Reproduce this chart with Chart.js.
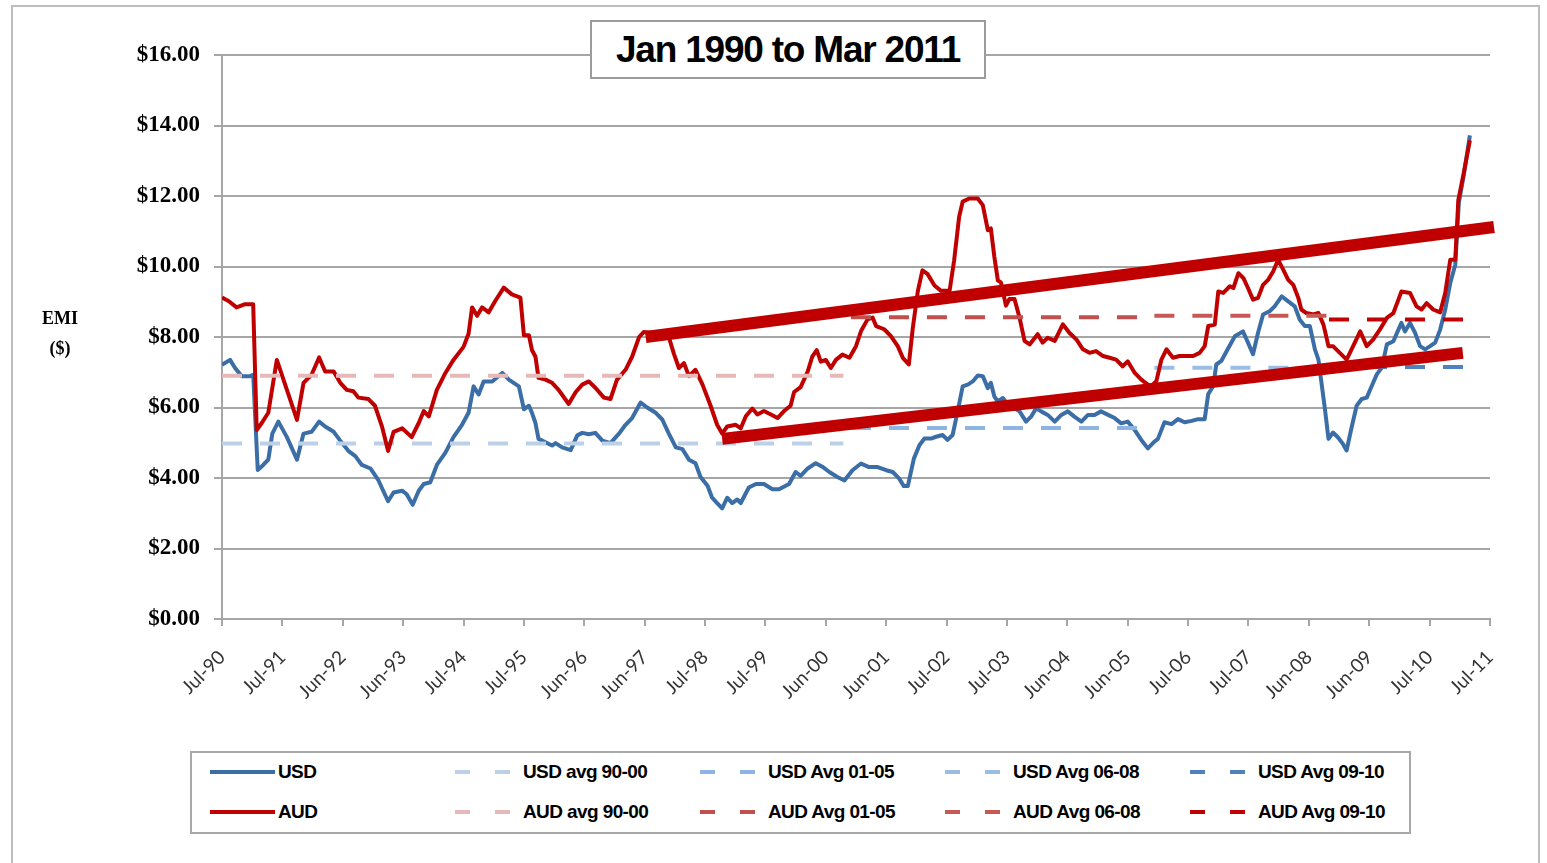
<!DOCTYPE html>
<html>
<head>
<meta charset="utf-8">
<script src="https://cdn.jsdelivr.net/npm/chart.js@4.4.1/dist/chart.umd.min.js"></script>
<style>
html,body{margin:0;padding:0;background:#fff;}
#wrap{position:relative;width:1547px;height:863px;overflow:hidden;background:#fff;}
#frame{position:absolute;left:11px;top:5px;width:1529px;height:880px;border:2px solid #BDBDBD;box-sizing:border-box;}
#cv{position:absolute;left:0;top:0;}
#title{position:absolute;left:590px;top:20px;width:396px;height:59px;border:2px solid #9C9C9C;box-sizing:border-box;background:#fff;
  font:bold 37px "Liberation Sans",Arial,sans-serif;letter-spacing:-1.2px;text-align:center;line-height:55px;color:#000;}
#ylab{position:absolute;left:30px;top:303px;width:60px;text-align:center;font:bold 18px "Liberation Serif",serif;line-height:30px;color:#000;}
#legend{position:absolute;left:190px;top:751px;width:1221px;height:83px;border:2px solid #A8A8A8;box-sizing:border-box;background:#fff;}
.li{position:absolute;height:24px;display:flex;align-items:center;font:bold 19px "Liberation Sans",Arial,sans-serif;letter-spacing:-0.6px;color:#000;white-space:nowrap;}
.li svg{display:block;margin-right:2px;}
</style>
</head>
<body>
<div id="wrap">
  <div id="frame"></div>
  <canvas id="cv" width="1547" height="863"></canvas>
  <div id="title">Jan 1990 to Mar 2011</div>
  <div id="ylab">EMI<br>($)</div>
  <div id="legend"></div>
</div>
<script>
// ---- Data (month index from Jul-90 = 0) ----
const xTickLabels = ['Jul-90','Jul-91','Jun-92','Jun-93','Jul-94','Jul-95','Jun-96','Jun-97','Jul-98','Jul-99','Jun-00',
  'Jun-01','Jul-02','Jul-03','Jun-04','Jun-05','Jul-06','Jul-07','Jun-08','Jun-09','Jul-10','Jul-11'];
const yTickValues = [0,2,4,6,8,10,12,14,16];

const usdPoints = [[0,7.21],[1.6,7.35],[2.6,7.12],[3.9,6.89],[5.6,6.89],[6.2,6.93],[7.1,4.23],[8.2,4.37],[9.2,4.52],[10.0,5.26],
[11.2,5.6],[12.9,5.16],[14.9,4.52],[16.2,5.26],[17.8,5.31],[19.3,5.6],[20.5,5.46],[22.2,5.31],[23.5,5.06],[25.1,4.77],
[26.5,4.62],[27.8,4.37],[29.5,4.27],[31.1,3.93],[33.0,3.34],[34.1,3.59],[35.8,3.64],[36.7,3.54],[37.9,3.24],[39.1,3.64],
[40.1,3.83],[41.4,3.88],[42.7,4.37],[44.4,4.72],[46.0,5.16],[47.7,5.51],[49.0,5.85],[50.0,6.6],[51.0,6.37],[52.0,6.74],
[53.7,6.74],[55.7,6.98],[57.0,6.79],[59.0,6.6],[60.0,5.95],[61.0,6.05],[61.6,5.85],[62.3,5.56],[62.9,5.11],[64.3,5.01],
[65.6,4.92],[66.3,4.99],[67.6,4.87],[69.3,4.79],[70.6,5.21],[71.6,5.28],[72.9,5.24],[74.2,5.28],[75.6,5.06],[77.2,4.99],
[78.9,5.26],[80.2,5.51],[81.5,5.7],[83.2,6.14],[84.5,6.0],[86.2,5.85],[87.5,5.66],[88.8,5.26],[90.2,4.87],[91.5,4.82],
[92.8,4.52],[94.1,4.42],[95.1,4.03],[96.5,3.78],[97.4,3.44],[98.4,3.29],[99.4,3.14],[100.4,3.44],[101.4,3.29],[102.4,3.39],
[103.1,3.29],[104.7,3.73],[106.1,3.83],[107.7,3.83],[109.4,3.68],[110.7,3.68],[112.7,3.83],[114.0,4.17],[115.0,4.06],[116.4,4.27],
[118.0,4.42],[119.3,4.32],[120.7,4.17],[122.3,4.03],[123.7,3.93],[125.3,4.22],[127.0,4.41],[128.6,4.31],[130.3,4.31],[132.0,4.22],
[133.3,4.17],[134.6,3.98],[135.5,3.77],[136.3,3.77],[137.5,4.55],[138.6,4.93],[139.6,5.12],[140.9,5.12],[141.9,5.17],[143.2,5.22],
[144.2,5.08],[145.2,5.22],[146.2,5.89],[147.2,6.6],[148.2,6.65],[149.2,6.74],[150.2,6.91],[151.2,6.89],[152.2,6.55],[152.8,6.7],
[153.5,6.31],[154.2,6.17],[155.2,6.27],[156.2,6.08],[157.5,5.98],[158.5,5.89],[159.8,5.6],[160.8,5.74],[161.8,5.98],[162.8,5.89],
[164.1,5.79],[165.5,5.6],[166.8,5.79],[168.1,5.89],[169.4,5.74],[170.8,5.6],[172.1,5.79],[173.4,5.79],[174.7,5.89],[176.1,5.79],
[177.4,5.7],[178.7,5.55],[180.0,5.6],[181.4,5.36],[182.7,5.08],[184.0,4.84],[185.3,5.03],[186.0,5.11],[187.3,5.58],[188.7,5.53],
[190.0,5.67],[191.3,5.58],[192.7,5.62],[194.0,5.67],[195.3,5.67],[196.0,6.38],[197.0,6.61],[197.6,7.22],[198.6,7.32],[200.0,7.69],
[201.3,8.02],[202.9,8.16],[203.9,7.84],[204.9,7.51],[205.9,8.12],[206.9,8.64],[208.2,8.73],[209.2,8.87],[210.6,9.15],[211.9,9.01],
[213.2,8.87],[214.2,8.49],[215.2,8.31],[216.2,8.31],[217.2,7.65],[217.9,7.36],[218.5,6.71],[219.2,5.95],[219.9,5.11],[220.8,5.29],
[221.8,5.15],[222.8,4.96],[223.5,4.78],[224.5,5.44],[225.5,6.05],[226.5,6.24],[227.5,6.28],[228.5,6.61],[229.5,6.94],[230.5,7.13],
[231.5,7.79],[232.8,7.88],[233.8,8.21],[234.4,8.4],[235.1,8.16],[236.1,8.4],[237.1,8.12],[238.1,7.74],[239.1,7.65],[240.1,7.74],
[241.1,7.84],[242.1,8.21],[243.1,8.78],[244.1,9.53],[245.1,10.05],[245.8,11.8],[246.8,12.6],[248.0,13.72]];

const audPoints = [[0,9.12],[1.3,9.02],[2.9,8.84],[4.6,8.93],[6.2,8.93],[6.9,5.36],[7.9,5.56],[9.2,5.85],[10.9,7.35],[12.9,6.5],
[14.9,5.65],[16.2,6.7],[17.8,6.93],[19.3,7.42],[20.5,7.02],[22.2,7.02],[23.5,6.7],[24.8,6.5],[26.1,6.46],[27.1,6.28],
[29.1,6.24],[30.4,6.05],[31.8,5.46],[33.0,4.77],[34.1,5.31],[35.8,5.41],[37.7,5.16],[39.1,5.56],[40.1,5.9],[41.1,5.75],
[42.7,6.5],[44.4,6.98],[46.0,7.35],[48.0,7.72],[49.0,8.09],[49.7,8.84],[50.7,8.6],[51.7,8.84],[53.0,8.7],[54.3,9.02],
[56.0,9.4],[57.6,9.21],[59.3,9.12],[60.0,8.05],[61.0,8.05],[61.6,7.63],[62.3,7.44],[62.9,6.84],[64.3,6.79],[65.6,6.7],
[66.9,6.5],[68.9,6.1],[70.3,6.44],[71.6,6.65],[72.9,6.74],[74.2,6.56],[75.9,6.28],[77.2,6.24],[78.5,6.79],[80.2,7.07],
[81.5,7.44],[82.9,8.0],[83.8,8.14],[86.5,8.1],[88.8,8.0],[89.8,7.53],[90.8,7.12],[91.8,7.26],[92.8,6.89],[94.1,7.07],
[95.5,6.65],[97.1,6.05],[98.4,5.51],[99.4,5.26],[100.4,5.46],[102.1,5.51],[103.1,5.41],[104.1,5.75],[105.4,5.97],[106.4,5.8],
[107.7,5.9],[109.1,5.8],[110.4,5.7],[111.7,5.9],[113.0,6.05],[113.7,6.44],[115.0,6.58],[116.4,7.02],[117.3,7.44],[118.2,7.63],
[119.0,7.3],[120.0,7.35],[121.0,7.12],[122.0,7.35],[123.3,7.5],[124.7,7.41],[126.0,7.74],[127.0,8.17],[128.3,8.5],[129.3,8.55],
[130.0,8.31],[131.6,8.22],[132.9,8.03],[134.3,7.74],[135.3,7.41],[136.5,7.22],[137.3,8.27],[138.3,9.31],[139.2,9.89],[140.2,9.79],
[141.6,9.46],[142.9,9.31],[144.6,9.31],[145.5,10.17],[146.5,11.41],[147.2,11.84],[148.5,11.93],[150.2,11.93],[151.2,11.74],[152.2,11.03],
[152.8,11.08],[153.5,10.27],[154.2,9.6],[154.8,9.55],[155.8,8.89],[156.5,9.08],[157.5,9.08],[158.5,8.55],[159.5,7.89],[160.5,7.79],
[162.1,8.08],[163.1,7.84],[164.1,7.98],[165.5,7.89],[167.1,8.36],[168.4,8.12],[169.8,7.93],[171.1,7.65],[172.4,7.55],[173.7,7.6],
[175.1,7.46],[176.4,7.41],[177.7,7.36],[179.0,7.17],[180.0,7.31],[181.4,6.98],[182.7,6.79],[184.0,6.65],[184.7,6.61],[185.7,6.75],
[186.7,7.36],[187.7,7.65],[189.0,7.41],[190.3,7.46],[191.7,7.46],[193.0,7.46],[194.3,7.55],[195.3,7.74],[196.0,8.31],[197.3,8.35],
[198.0,9.29],[199.0,9.25],[200.3,9.44],[201.0,9.39],[202.0,9.81],[203.0,9.67],[203.9,9.39],[204.9,9.06],[205.9,9.11],[206.9,9.48],
[207.9,9.62],[208.9,9.86],[209.9,10.19],[210.9,9.91],[211.9,9.62],[212.9,9.48],[213.9,9.11],[214.5,8.78],[215.5,8.68],[216.9,8.64],
[217.9,8.68],[218.9,8.35],[219.9,7.74],[220.8,7.74],[221.8,7.6],[223.5,7.36],[224.8,7.74],[226.2,8.16],[227.5,7.74],[228.8,7.93],
[230.1,8.21],[231.5,8.54],[232.8,8.68],[233.8,9.06],[234.4,9.29],[236.1,9.25],[237.4,8.87],[238.4,8.78],[239.4,8.96],[240.7,8.78],
[242.1,8.7],[243.1,9.25],[244.1,10.19],[245.1,10.19],[245.7,11.88],[246.7,12.59],[248.0,13.58]];

// Period averages
const periodStart = [0, 125, 185.3, 220];
const periodEnd   = [123.5, 183.7, 219.5, 248];
const usdAvg = [4.98, 5.42, 7.13, 7.15];
const audAvg = [6.9, 8.56, 8.6, 8.5];
const usdAvgLabels = ['USD avg 90-00','USD Avg 01-05','USD Avg 06-08','USD Avg 09-10'];
const audAvgLabels = ['AUD avg 90-00','AUD Avg 01-05','AUD Avg 06-08','AUD Avg 09-10'];

// Trend channel lines (start / end)
const upperTrend = [[84.2, 8.0], [252.8, 11.12]];
const lowerTrend = [[99.4, 5.11], [246.6, 7.55]];

// ---- Styles ----
const USD_COLOR = '#3B6EA6';
const AUD_COLOR = '#C00000';
const usdAvgColors = ['#BCD0E8','#8DB4E2','#9ABDE4','#4F81BD'];
const audAvgColors = ['#E6B9B8','#C0504D','#C65856','#C00000'];

const toXY = arr => arr.map(p => ({x: p[0], y: p[1]}));
const datasets = [];
datasets.push({label:'USD', data: toXY(usdPoints), borderColor: USD_COLOR, borderWidth: 4, order: 20, _row: 0, _col: 0});
usdAvgLabels.forEach((lab, i) => datasets.push({label: lab,
  data: [{x: periodStart[i], y: usdAvg[i]}, {x: periodEnd[i], y: usdAvg[i]}],
  borderColor: usdAvgColors[i], borderWidth: 4, borderDash: [20, 18], borderCapStyle: 'butt', order: 19 - i, _row: 0, _col: i + 1}));
datasets.push({label:'AUD', data: toXY(audPoints), borderColor: AUD_COLOR, borderWidth: 4, order: 10, _row: 1, _col: 0});
audAvgLabels.forEach((lab, i) => datasets.push({label: lab,
  data: [{x: periodStart[i], y: audAvg[i]}, {x: periodEnd[i], y: audAvg[i]}],
  borderColor: audAvgColors[i], borderWidth: 4, borderDash: [20, 18], borderCapStyle: 'butt', order: 9 - i, _row: 1, _col: i + 1}));
datasets.push({label:'Upper trend', data: toXY(upperTrend), borderColor: AUD_COLOR, borderWidth: 12, borderCapStyle: 'butt', order: 1, clip: false});
datasets.push({label:'Lower trend', data: toXY(lowerTrend), borderColor: AUD_COLOR, borderWidth: 12, borderCapStyle: 'butt', order: 0, clip: false});

datasets.forEach(d => { d.pointRadius = 0; d.pointHoverRadius = 0; d.tension = 0; d.fill = false;
  if (!d.borderDash) d.borderJoinStyle = 'round'; });

const GRID = '#A6A6A6';
const chart = new Chart(document.getElementById('cv'), {
  type: 'line',
  data: { datasets },
  options: {
    responsive: false,
    animation: false,
    events: [],
    layout: { padding: { top: 55, right: 57, left: 0, bottom: 0 } },
    plugins: { legend: { display: false }, title: { display: false }, tooltip: { enabled: false } },
    scales: {
      x: {
        type: 'linear', min: 0, max: 252,
        afterFit: s => { s.height = 244; },
        afterBuildTicks: s => { s.ticks = xTickLabels.map((_, i) => ({value: i * 12})); },
        ticks: {
          autoSkip: false, minRotation: 45, maxRotation: 45, padding: 20,
          color: '#333333', font: { family: 'Lato, "Open Sans", sans-serif', size: 19 },
          callback: v => xTickLabels[Math.round(v / 12)]
        },
        grid: { display: true, drawOnChartArea: false, drawTicks: true, tickLength: 7, color: GRID, lineWidth: 2 },
        border: { display: true, color: GRID, width: 2 }
      },
      y: {
        min: 0, max: 16,
        afterFit: s => { s.width = 222; },
        afterBuildTicks: s => { s.ticks = yTickValues.map(v => ({value: v})); },
        ticks: {
          padding: 14, color: '#000',
          font: { family: '"Liberation Serif", "Times New Roman", serif', size: 23, weight: 'bold' },
          callback: v => '$' + Number(v).toFixed(2)
        },
        grid: { color: GRID, lineWidth: 2, tickLength: 8 },
        border: { display: true, color: GRID, width: 2 }
      }
    }
  }
});

// ---- HTML legend built from the chart's datasets ----
const legendEl = document.getElementById('legend');
chart.data.datasets.forEach(ds => {
  if (ds._row === undefined) return;
  const item = document.createElement('div');
  item.className = 'li';
  item.style.left = (18 + 245 * ds._col) + 'px';
  item.style.top = (ds._row === 0 ? 7 : 47) + 'px';
  const ns = 'http://www.w3.org/2000/svg';
  const svg = document.createElementNS(ns, 'svg');
  svg.setAttribute('width', '66'); svg.setAttribute('height', '24');
  const ln = document.createElementNS(ns, 'line');
  ln.setAttribute('y1', '12'); ln.setAttribute('y2', '12'); ln.setAttribute('x1', '0');
  ln.setAttribute('stroke', ds.borderColor);
  ln.setAttribute('stroke-width', '4');
  if (ds.borderDash) { ln.setAttribute('x2', '55'); ln.setAttribute('stroke-dasharray', '15 25'); }
  else { ln.setAttribute('x2', '65'); }
  svg.appendChild(ln);
  item.appendChild(svg);
  const t = document.createElement('span');
  t.textContent = ds.label;
  item.appendChild(t);
  legendEl.appendChild(item);
});
</script>
</body>
</html>
